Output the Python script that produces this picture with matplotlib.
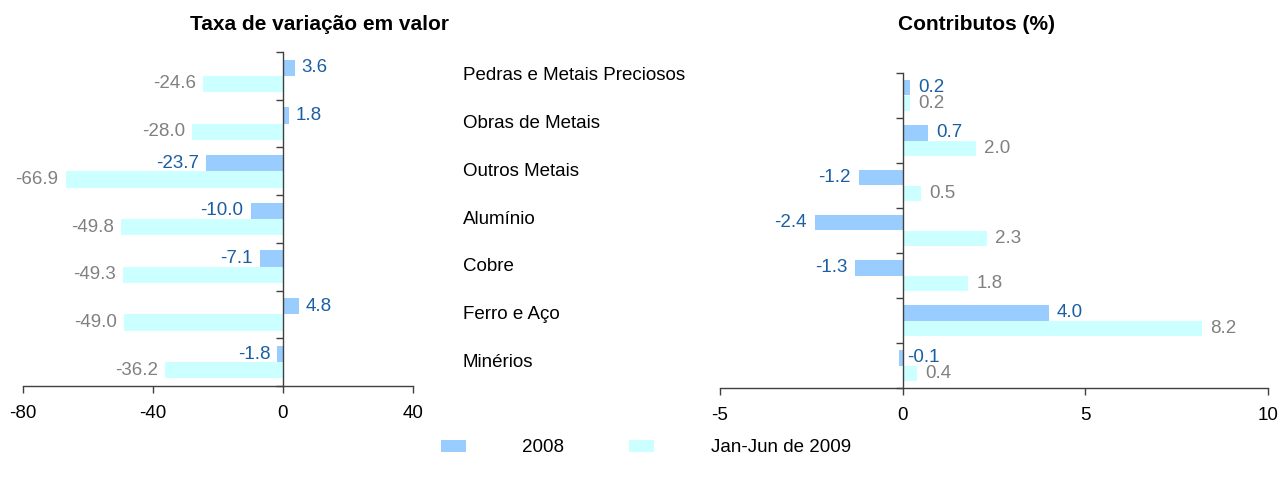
import numpy as np
import matplotlib
import matplotlib.pyplot as plt
from matplotlib.patches import Patch
from matplotlib.transforms import blended_transform_factory

matplotlib.use('Agg')
plt.rcParams['font.family'] = ['Liberation Sans', 'DejaVu Sans']

# data
categorias = ["Pedras e Metais Preciosos", "Obras de Metais", "Outros Metais",
              "Alumínio", "Cobre", "Ferro e Aço", "Minérios"]
taxa_2008 = [3.6, 1.8, -23.7, -10.0, -7.1, 4.8, -1.8]
taxa_2009 = [-24.6, -28.0, -66.9, -49.8, -49.3, -49.0, -36.2]
contrib_2008 = [0.2, 0.7, -1.2, -2.4, -1.3, 4.0, -0.1]
contrib_2009 = [0.2, 2.0, 0.5, 2.3, 1.8, 8.2, 0.4]
series = ["2008", "Jan-Jun de 2009"]

c2008 = '#99ccff'
c2009 = '#ccffff'
lab_blue = '#1a5fa3'
lab_gray = '#808080'
axis_col = '#404040'
fs = 13.5

fig = plt.figure(figsize=(12.82, 4.83), dpi=100)
ax1 = fig.add_axes([23 / 1282, 1 - 386 / 483, 390 / 1282, 334 / 483])
ax2 = fig.add_axes([720 / 1282, 1 - 388 / 483, 548 / 1282, 315 / 483])

y = np.arange(len(categorias))
h = 0.34


def draw(ax, v1, v2, xlim, xticks, pad_px):
    ax.barh(y - h / 2, v1, height=h, color=c2008, zorder=2)
    ax.barh(y + h / 2, v2, height=h, color=c2009, zorder=2)
    ax.set_xlim(*xlim)
    ax.set_ylim(len(categorias) - 0.5, -0.5)
    ax.set_xticks(xticks)
    ax.set_xticklabels([str(t) for t in xticks], fontsize=fs)
    ax.set_yticks(np.arange(-0.5, len(categorias), 1.0))
    ax.set_yticklabels([])
    for s in ['top', 'right']:
        ax.spines[s].set_visible(False)
    ax.spines['left'].set_position(('data', 0))
    ax.spines['left'].set_zorder(3)
    for s in ['left', 'bottom']:
        ax.spines[s].set_color(axis_col)
        ax.spines[s].set_linewidth(1.0)
    ax.tick_params(axis='both', direction='out', length=5, color=axis_col, width=1.0)
    ax.tick_params(axis='x', pad=9)
    # pixel to data width
    dx = pad_px * (xlim[1] - xlim[0]) / (ax.get_position().width * 1282)
    for vals, off, col in [(v1, -h / 2, lab_blue), (v2, h / 2, lab_gray)]:
        for i, v in enumerate(vals):
            if v >= 0 or abs(v) < 0.2:
                ax.text(max(v, 0) + dx * (0.5 if v < 0 else 1), i + off, f"{v:.1f}",
                        ha='left', va='center', fontsize=fs, color=col)
            else:
                ax.text(v - dx, i + off, f"{v:.1f}", ha='right', va='center',
                        fontsize=fs, color=col)


draw(ax1, taxa_2008, taxa_2009, (-80, 40), [-80, -40, 0, 40], 7)
draw(ax2, contrib_2008, contrib_2009, (-5, 10), [-5, 0, 5, 10], 8)

# category names between the two panels
tr = blended_transform_factory(fig.transFigure, ax1.transData)
for i, c in enumerate(categorias):
    fig.text(463 / 1282, i, c, transform=tr, ha='left', va='center', fontsize=fs)

fig.text(320 / 1282, 1 - 25 / 483, "Taxa de variação em valor", ha='center', va='center',
         fontsize=15, fontweight='bold')
fig.text(977 / 1282, 1 - 25 / 483, "Contributos (%)", ha='center', va='center',
         fontsize=15, fontweight='bold')

handles = [Patch(facecolor=c2008, edgecolor='none'), Patch(facecolor=c2009, edgecolor='none')]
fig.legend(handles, series, loc='center', bbox_to_anchor=(646 / 1282, 1 - 448 / 483), ncol=2,
           frameon=False, fontsize=fs, handlelength=1.33, handleheight=0.55,
           handletextpad=3.0, columnspacing=3.47)

fig.savefig('out.png', dpi=100)
